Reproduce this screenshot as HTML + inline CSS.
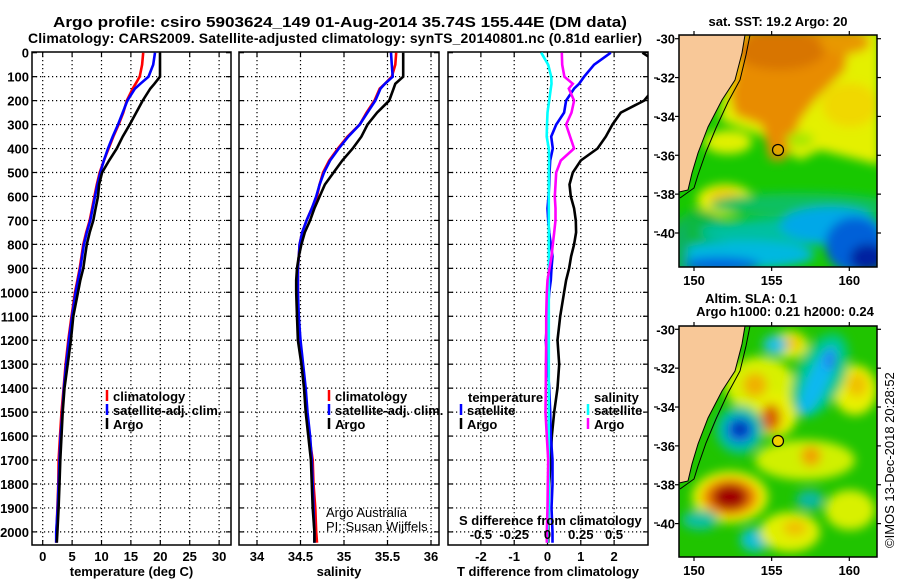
<!DOCTYPE html>
<html><head><meta charset="utf-8"><style>
html,body{margin:0;padding:0;background:#fff;}
svg{display:block;font-family:"Liberation Sans",Arial,sans-serif;}
.t{font-weight:bold;font-size:14px;}
.k{font-weight:bold;font-size:13px;}
.g{stroke:#000;stroke-width:1.2;stroke-dasharray:1.2 2.8;fill:none;}
</style></head><body>
<svg id="s" width="900" height="580" viewBox="0 0 900 580">
<defs>
<clipPath id="c1"><rect x="32" y="52" width="199" height="493"/></clipPath>
<clipPath id="c2"><rect x="239" y="52" width="200" height="493"/></clipPath>
<clipPath id="c3"><rect x="448" y="52" width="200" height="493"/></clipPath>
<clipPath id="m1"><rect x="679" y="35" width="198" height="232"/></clipPath>
<clipPath id="m2"><rect x="679" y="326" width="198" height="231"/></clipPath>
<filter id="bl" x="-20%" y="-20%" width="140%" height="140%"><feGaussianBlur stdDeviation="5"/></filter>
</defs>
<text class="t" x="340" y="27" text-anchor="middle" font-size="15" style="font-size:15px" textLength="574" lengthAdjust="spacingAndGlyphs">Argo profile: csiro 5903624_149 01-Aug-2014 35.74S 155.44E (DM data)</text>
<text class="t" x="335" y="43" text-anchor="middle" textLength="614">Climatology: CARS2009. Satellite-adjusted climatology: synTS_20140801.nc (0.81d earlier)</text>
<g id="plots"></g>

<!-- Map 1: SST -->
<g>
<text class="k" x="778" y="26" text-anchor="middle">sat. SST: 19.2 Argo: 20</text>
<g clip-path="url(#m1)">
<rect x="679" y="35" width="198" height="232" fill="#18c800"/>
<g filter="url(#bl)">
<polygon points="730,30 880,30 880,165 820,150 800,160 760,135 720,120" fill="#e4f000"/>
<polygon points="745,30 850,30 845,70 815,100 800,120 785,160 770,160 762,125 735,115 730,95" fill="#e88c00"/>
<ellipse cx="780" cy="50" rx="45" ry="20" fill="#d87400"/>
<ellipse cx="845" cy="42" rx="25" ry="12" fill="#e89800"/>
<ellipse cx="850" cy="105" rx="28" ry="22" fill="#f0d800"/>
<ellipse cx="728" cy="142" rx="24" ry="12" fill="#e0f000"/>
<ellipse cx="800" cy="140" rx="14" ry="8" fill="#a8e800"/>
<ellipse cx="725" cy="200" rx="28" ry="16" fill="#e8f000"/>
<ellipse cx="725" cy="198" rx="16" ry="9" fill="#f0c800"/>
<ellipse cx="700" cy="230" rx="25" ry="20" fill="#10b840"/>
<ellipse cx="800" cy="205" rx="90" ry="12" fill="#10c060"/>
<ellipse cx="800" cy="232" rx="100" ry="14" fill="#00c0a0"/>
<ellipse cx="830" cy="225" rx="50" ry="18" fill="#00a8e8"/>
<ellipse cx="745" cy="255" rx="70" ry="14" fill="#00b8e0"/>
<ellipse cx="720" cy="265" rx="40" ry="8" fill="#0068e0"/>
<ellipse cx="855" cy="245" rx="30" ry="28" fill="#0060d8"/>
<ellipse cx="868" cy="258" rx="18" ry="14" fill="#0020a0"/>
<ellipse cx="680" cy="250" rx="8" ry="30" fill="#10b060"/>
</g>
<polygon points="679,35 745,35 742,53 735,80 722,100 708,127 698,153 692,173 688,190 679,192" fill="#f8c898" stroke="#000" stroke-width="1"/>
<polyline points="750,35 746,55 740,80 728,102 716,128 706,152 698,175 694,188 680,198" fill="none" stroke="#000" stroke-width="1"/>
<circle cx="778" cy="150" r="5.5" fill="#f0d000" fill-opacity="0.3" stroke="#000" stroke-width="1.2"/>
</g>
<rect x="679" y="35" width="198" height="232" fill="none" stroke="#000" stroke-width="1.5"/>
</g>

<!-- Map 2: SLA -->
<g>
<text class="k" x="751" y="303" text-anchor="middle">Altim. SLA: 0.1</text>
<text class="k" x="785" y="316" text-anchor="middle">Argo h1000: 0.21 h2000: 0.24</text>
<g clip-path="url(#m2)">
<rect x="679" y="326" width="198" height="231" fill="#20c400"/>
<g filter="url(#bl)">
<ellipse cx="760" cy="385" rx="35" ry="28" fill="#d8f000"/>
<ellipse cx="755" cy="385" rx="12" ry="12" fill="#f0b000"/>
<ellipse cx="790" cy="345" rx="18" ry="14" fill="#e0f000"/>
<ellipse cx="792" cy="343" rx="8" ry="7" fill="#f0c000"/>
<ellipse cx="775" cy="415" rx="22" ry="22" fill="#e8f000"/>
<ellipse cx="771" cy="418" rx="10" ry="14" fill="#d86000"/>
<ellipse cx="805" cy="460" rx="50" ry="20" fill="#d0f000"/>
<ellipse cx="811" cy="456" rx="10" ry="10" fill="#f0a000"/>
<ellipse cx="855" cy="390" rx="22" ry="25" fill="#e8f000"/>
<ellipse cx="857" cy="385" rx="10" ry="12" fill="#f0c000"/>
<ellipse cx="820" cy="375" rx="24" ry="45" fill="#00c880" transform="rotate(25 820 375)"/>
<ellipse cx="818" cy="380" rx="11" ry="38" fill="#10b8f0" transform="rotate(25 818 380)"/>
<ellipse cx="830" cy="360" rx="6" ry="10" fill="#2080f0"/>
<ellipse cx="740" cy="430" rx="24" ry="24" fill="#00c0a0"/>
<ellipse cx="740" cy="430" rx="14" ry="13" fill="#1060e0"/>
<ellipse cx="740" cy="429" rx="7" ry="6" fill="#0020a0"/>
<ellipse cx="730" cy="497" rx="38" ry="26" fill="#e8f000"/>
<ellipse cx="730" cy="497" rx="28" ry="19" fill="#f08000"/>
<ellipse cx="730" cy="497" rx="18" ry="13" fill="#a00000"/>
<ellipse cx="775" cy="345" rx="12" ry="10" fill="#20c0e0"/>
<ellipse cx="755" cy="540" rx="15" ry="12" fill="#10c0d0"/>
<ellipse cx="700" cy="520" rx="18" ry="10" fill="#10c0a0"/>
<ellipse cx="790" cy="532" rx="30" ry="20" fill="#e0f000"/>
<ellipse cx="795" cy="528" rx="12" ry="8" fill="#f0c000"/>
<ellipse cx="850" cy="510" rx="25" ry="20" fill="#d8f000"/>
<ellipse cx="810" cy="500" rx="14" ry="10" fill="#10b8a0"/>
</g>
<polygon points="679,326 745,326 742,344 735,371 722,391 708,418 698,444 692,464 688,481 679,483" fill="#f8c898" stroke="#000" stroke-width="1"/>
<polyline points="750,326 746,346 740,371 728,393 716,419 706,443 698,466 694,479 680,489" fill="none" stroke="#000" stroke-width="1"/>
<circle cx="778" cy="441" r="5.5" fill="#f0d000" stroke="#000" stroke-width="1.2"/>
</g>
<rect x="679" y="326" width="198" height="231" fill="none" stroke="#000" stroke-width="1.5"/>
</g>
<text x="894" y="548" font-size="13" transform="rotate(-90 894 548)">©IMOS 13-Dec-2018 20:28:52</text>
</svg>
<script>
// ---- data ----
const depths=[0,50,100,130,150,200,250,300,350,400,450,500,550,600,650,700,750,800,850,900,950,1000,1100,1200,1300,1400,1500,1600,1700,1800,1900,2000,2045];
const tempClim=[17.1,16.9,16.5,15.8,15.3,14.3,13.7,12.9,12.0,11.2,10.4,9.7,9.2,8.8,8.4,8.0,7.4,6.9,6.6,6.3,5.9,5.5,4.9,4.35,3.9,3.55,3.2,2.95,2.7,2.65,2.5,2.35,2.3];
const tempSat=[19.1,18.8,18.0,16.6,15.7,14.4,13.6,12.8,11.9,11.1,10.4,9.8,9.3,8.9,8.5,8.1,7.5,7.0,6.7,6.4,6.0,5.6,5.0,4.45,4.0,3.6,3.35,3.05,2.85,2.7,2.55,2.3,2.3];
const tempArgo=[19.95,19.95,19.95,19.0,18.3,17.0,15.9,14.8,13.6,12.6,11.3,10.1,9.6,9.4,9.0,8.6,8.0,7.5,7.2,6.9,6.4,6.0,5.2,4.8,4.25,3.7,3.4,3.2,3.0,2.85,2.7,2.5,2.4];
const salClim=[35.6,35.59,35.55,35.47,35.41,35.35,35.26,35.18,35.04,34.93,34.83,34.76,34.72,34.69,34.63,34.57,34.52,34.49,34.48,34.47,34.47,34.47,34.47,34.49,34.52,34.55,34.57,34.6,34.64,34.65,34.67,34.68,34.69];
const salSat=[35.54,35.55,35.56,35.47,35.42,35.36,35.27,35.18,35.05,34.94,34.84,34.77,34.72,34.68,34.63,34.57,34.52,34.49,34.48,34.47,34.47,34.47,34.48,34.5,34.53,34.56,34.58,34.61,34.63,34.64,34.65,34.66,34.66];
const salArgo=[35.68,35.68,35.68,35.59,35.57,35.52,35.38,35.27,35.2,35.1,34.98,34.88,34.78,34.72,34.66,34.61,34.55,34.51,34.48,34.46,34.45,34.45,34.46,34.47,34.51,34.54,34.56,34.59,34.62,34.63,34.64,34.66,34.66];
const dTArgo=[2.85,3.4,3.4,3.3,3.2,2.9,2.2,1.95,1.75,1.5,1.0,0.76,0.66,0.7,0.8,0.85,0.86,0.8,0.71,0.65,0.56,0.5,0.38,0.3,0.35,0.3,0.2,0.13,0.1,0.05,0.03,0.02,0.02];
const dTSat=[1.9,1.4,1.1,0.95,0.8,0.56,0.5,0.26,0.11,0.16,0.08,0.06,0.05,0.03,0.0,0.02,0.05,0.1,0.15,0.12,0.1,0.05,0.0,-0.05,0.0,0.05,0.08,0.1,0.15,0.15,0.12,0.15,0.15];
const dSArgo=[0.107,0.11,0.127,0.19,0.16,0.2,0.18,0.14,0.17,0.2,0.1,0.065,0.06,0.055,0.06,0.06,0.05,0.04,0.03,0.015,0.0,-0.005,-0.01,-0.01,-0.012,-0.013,-0.015,-0.005,0.005,0.002,0.0,-0.005,-0.005];
const dSSat=[-0.047,0.005,0.028,0.03,0.025,0.013,0.0,-0.004,-0.006,0.01,0.012,0.01,0.01,0.01,0.01,0.01,0.01,0.01,0.01,0.01,0.01,0.01,0.01,0.01,0.01,0.01,0.01,0.01,0.01,0.01,0.01,0.0,0.0];
const depthTicks=[0,100,200,300,400,500,600,700,800,900,1000,1100,1200,1300,1400,1500,1600,1700,1800,1900,2000];
const tempTicks=[0,5,10,15,20,25,30];
const salTicks=[34,34.5,35,35.5,36];
const salTickLabels=["34","34.5","35","35.5","36"];
const dTTicks=[-2,-1,0,1,2];
const dSTicks=[-0.5,-0.25,0,0.25,0.5];
const dSTickLabels=["-0.5","-0.25","0","0.25","0.5"];

// ---- scales ----
const Y=d=>52.7+d*0.2396;
const XT=t=>42.7+t*5.88;
const XS=s=>257+(s-34)*87;
const XD=t=>547.5+t*33.3;
const XDS=s=>547.5+s*133.2;
const NS='http://www.w3.org/2000/svg';
const root=document.getElementById('plots');
function el(tag,attrs,parent){const e=document.createElementNS(NS,tag);for(const k in attrs)e.setAttribute(k,attrs[k]);(parent||root).appendChild(e);return e;}
function stairs(vals,xf){let d='';for(let i=0;i<depths.length;i++){const x=xf(vals[i]).toFixed(1);const y=Y(depths[i]).toFixed(1);d+=(i?'L':'M')+x+','+y;}return d;}

function panel(x0,w,clip,name,xticks,xf,xlabels,xtitle,showY){
  const g=el('g',{});
  
  
  depthTicks.forEach(d=>{ if(d>0) el('line',{x1:x0,x2:x0+w,y1:Y(d),y2:Y(d),class:'g'},g);
    el('line',{x1:x0,x2:x0+5,y1:Y(d),y2:Y(d),stroke:'#000','stroke-width':1.2},g);
    el('line',{x1:x0+w-5,x2:x0+w,y1:Y(d),y2:Y(d),stroke:'#000','stroke-width':1.2},g);
    if(showY){const t=el('text',{x:29,y:Y(d)+5,'text-anchor':'end',class:'k'},g);t.textContent=d;
      
      }
  });
  xticks.forEach((v,i)=>{const x=xf(v);
    el('line',{x1:x,x2:x,y1:52,y2:545,class:'g'},g);
    el('line',{x1:x,x2:x,y1:540,y2:545,stroke:'#000','stroke-width':1.2},g);
    el('line',{x1:x,x2:x,y1:52,y2:57,stroke:'#000','stroke-width':1.2},g);
    const t=el('text',{x:x,y:561,'text-anchor':'middle',class:'k'},g);t.textContent=xlabels[i];
    
    
  });
  const tt=el('text',{x:x0+w/2,y:576,'text-anchor':'middle',class:'k'},g);tt.textContent=xtitle;
  
  
  el('rect',{x:x0,y:52,width:w,height:493,fill:'none',stroke:'#000','stroke-width':1.5},g);
  return g;
}
function line(g,vals,xf,color,clip,name){
  const p=el('path',{d:stairs(vals,xf),fill:'none',stroke:color,'stroke-width':2.6,'clip-path':'url(#'+clip+')'},g);
  
  
}
function legend(g,x,y,color,txt){
  el('line',{x1:x,x2:x,y1:y-7,y2:y+4,stroke:color,'stroke-width':2.5},g);
  const t=el('text',{x:x+6,y:y+4,class:'k'},g);t.textContent=txt;
  
  
}
// Panel 1
const g1=panel(32,199,'c1','temperature-panel',tempTicks,XT,tempTicks.map(String),'temperature (deg C)',true);
line(g1,tempClim,XT,'#f00','c1','temp-climatology-line');
line(g1,tempSat,XT,'#00f','c1','temp-satellite-line');
line(g1,tempArgo,XT,'#000','c1','temp-argo-line');
legend(g1,107,397,'#f00','climatology');legend(g1,107,411,'#00f','satellite-adj. clim.');legend(g1,107,425,'#000','Argo');
// Panel 2
const g2=panel(239,200,'c2','salinity-panel',salTicks,XS,salTickLabels,'salinity',false);
line(g2,salClim,XS,'#f00','c2','sal-climatology-line');
line(g2,salSat,XS,'#00f','c2','sal-satellite-line');
line(g2,salArgo,XS,'#000','c2','sal-argo-line');
legend(g2,329,397,'#f00','climatology');legend(g2,329,411,'#00f','satellite-adj. clim.');legend(g2,329,425,'#000','Argo');
const a1=el('text',{x:326,y:517,'font-size':13},g2);a1.textContent='Argo Australia';


const a2=el('text',{x:326,y:531,'font-size':13},g2);a2.textContent='PI: Susan Wijffels';


// Panel 3
const g3=panel(448,200,'c3','difference-panel',dTTicks,XD,dTTicks.map(String),'T difference from climatology',false);
line(g3,dTArgo,XD,'#000','c3','dT-argo-line');
line(g3,dTSat,XD,'#00f','c3','dT-satellite-line');
line(g3,dSSat,XDS,'#0ff','c3','dS-satellite-line');
line(g3,dSArgo,XDS,'#f0f','c3','dS-argo-line');
const h1=el('text',{x:468,y:402,class:'k'},g3);h1.textContent='temperature';


const h2=el('text',{x:594,y:402,class:'k'},g3);h2.textContent='salinity';


legend(g3,461,411,'#00f','satellite');legend(g3,461,425,'#000','Argo');
legend(g3,588,411,'#0ff','satellite');legend(g3,588,425,'#f0f','Argo');
const st=el('text',{x:459,y:525,class:'k'},g3);st.textContent='S difference from climatology';


dSTicks.forEach((v,i)=>{const t=el('text',{x:XDS(v),y:539,'text-anchor':'middle',class:'k'},g3);t.textContent=dSTickLabels[i];
  
  });
[78,117,155,193,232,368,407,445,484,523].forEach(y=>el('line',{x1:654,x2:658,y1:y,y2:y,stroke:'#000','stroke-width':1.2}));
// Map axes
const lats=[-30,-32,-34,-36,-38,-40];const lons=[150,155,160];
function mapAxes(top,lat0,bottomY){
  lats.forEach(l=>{const y=lat0+(-30-l)*19.43;
    el('line',{x1:675,x2:679,y1:y,y2:y,stroke:'#000','stroke-width':1.2});
    el('line',{x1:877,x2:881,y1:y,y2:y,stroke:'#000','stroke-width':1.2});
    const t=el('text',{x:675,y:y+5,'text-anchor':'end',class:'k'});t.textContent=l;
    
    });
  lons.forEach(l=>{const x=694+(l-150)*15.53;
    el('line',{x1:x,x2:x,y1:top-4,y2:top,stroke:'#000','stroke-width':1.2});
    el('line',{x1:x,x2:x,y1:bottomY,y2:bottomY+4,stroke:'#000','stroke-width':1.2});
    const t=el('text',{x:x,y:bottomY+18,'text-anchor':'middle',class:'k'});t.textContent=l;
    
    });
}
mapAxes(35,38.7,267);
mapAxes(326,329.3,557);
</script>
</body></html>
